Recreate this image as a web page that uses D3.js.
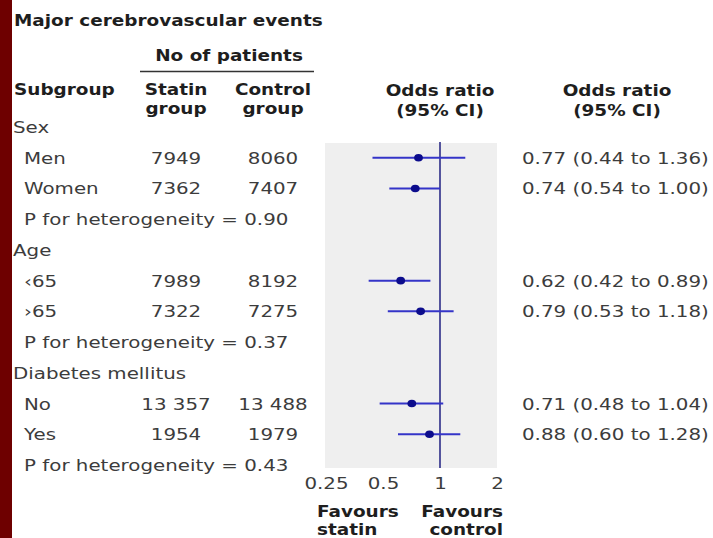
<!DOCTYPE html>
<html><head><meta charset="utf-8">
<script src="https://cdn.jsdelivr.net/npm/d3@7/dist/d3.min.js"></script>
<style>body{margin:0;background:#fff}svg{display:block}</style>
</head><body>
<script>
const title = "Major cerebrovascular events";
const rowLabels = ["Sex","Men","Women","P for heterogeneity = 0.90","Age","\u203965","\u203a65","P for heterogeneity = 0.37","Diabetes mellitus","No","Yes","P for heterogeneity = 0.43"];
const rowType = ["group","item","item","p","group","item","item","p","group","item","item","p"];
const statinN = ["","7949","7362","","","7989","7322","","","13 357","1954",""];
const controlN = ["","8060","7407","","","8192","7275","","","13 488","1979",""];
const orEst = [null,0.77,0.74,null,null,0.62,0.79,null,null,0.71,0.88,null];
const orLo  = [null,0.44,0.54,null,null,0.42,0.53,null,null,0.48,0.60,null];
const orHi  = [null,1.36,1.00,null,null,0.89,1.18,null,null,1.04,1.28,null];
const orText = ["","0.77 (0.44 to 1.36)","0.74 (0.54 to 1.00)","","","0.62 (0.42 to 0.89)","0.79 (0.53 to 1.18)","","","0.71 (0.48 to 1.04)","0.88 (0.60 to 1.28)",""];
const tickValues = [0.25,0.5,1,2];
const tickLabels = ["0.25","0.5","1","2"];

const W=713,H=538;
const font="'DejaVu Sans', Verdana, sans-serif";
const svg=d3.select("body").append("svg").attr("width",W).attr("height",H);
svg.append("rect").attr("x",0).attr("y",0).attr("width",12).attr("height",H).attr("fill","#6e0000");

const x=d3.scaleLog().domain([0.25,2]).range([326,497]);
const y=d3.scaleLinear().domain([0,11]).range([127,465]);
const txt="#3c3c3c", bold="#1e1e1e";
const SXR=1.24, SXB=1.19;

// panel
svg.append("rect").attr("x",x(0.25)-1).attr("y",143).attr("width",x(2)-x(0.25)+1).attr("height",468-143).attr("fill","#efefef");
svg.append("line").attr("x1",x(1)).attr("x2",x(1)).attr("y1",142).attr("y2",468).attr("stroke","#2c2c88").attr("stroke-width",1.6);

const hb=(s,xx,yy,anchor)=>svg.append("text").attr("transform",`translate(${xx},${yy}) scale(${SXB},1)`).attr("text-anchor",anchor||"start")
  .attr("font-family",font).attr("font-weight","bold").attr("font-size",15.5).attr("fill",bold).text(s);
const t=(s,xx,yy,anchor)=>svg.append("text").attr("transform",`translate(${xx},${yy}) scale(${SXR},1)`).attr("text-anchor",anchor||"start")
  .attr("font-family",font).attr("font-size",16).attr("fill",txt).text(s);

hb(title,14,26);
hb("No of patients",229,61,"middle");
svg.append("line").attr("x1",140).attr("x2",314).attr("y1",71.5).attr("y2",71.5).attr("stroke","#333").attr("stroke-width",1.5);
hb("Subgroup",14,95);
hb("Statin",176,95,"middle");hb("group",176,114,"middle");
hb("Control",273,95,"middle");hb("group",273,114,"middle");
hb("Odds ratio",440,96,"middle");hb("(95% CI)",440,116,"middle");
hb("Odds ratio",617,96,"middle");hb("(95% CI)",617,116,"middle");

const rows=d3.range(rowLabels.length);
rows.forEach(i=>{
  const yy=y(i)+6;
  t(rowLabels[i], rowType[i]==="group"?13:24, yy);
  if(statinN[i]) t(statinN[i],176,yy,"middle");
  if(controlN[i]) t(controlN[i],273,yy,"middle");
  if(orText[i]) t(orText[i],522,yy);
});

const est=rows.filter(i=>orEst[i]!=null);
svg.selectAll("line.ci").data(est).join("line").attr("class","ci")
  .attr("x1",i=>x(orLo[i])).attr("x2",i=>x(orHi[i])).attr("y1",i=>y(i)).attr("y2",i=>y(i))
  .attr("stroke","#3434c8").attr("stroke-width",2);
svg.selectAll("ellipse.pt").data(est).join("ellipse").attr("class","pt")
  .attr("cx",i=>x(orEst[i])).attr("cy",i=>y(i)).attr("rx",4.4).attr("ry",3.8).attr("fill","#0c0c8c");

// axis ticks
const ax=svg.append("g").attr("transform","translate(0,489)")
  .call(d3.axisBottom(x).tickValues(tickValues).tickFormat((d,i)=>tickLabels[i]).tickSize(0).tickPadding(0));
ax.select(".domain").remove();
ax.selectAll(".tick text").attr("font-family",font).attr("font-size",16).attr("fill",txt).attr("dy",0).attr("y",0)
  .attr("transform",`scale(${SXR},1)`);

hb("Favours",317,517);hb("statin",317,535);
hb("Favours",503,517,"end");hb("control",503,535,"end");
</script>
</body></html>
